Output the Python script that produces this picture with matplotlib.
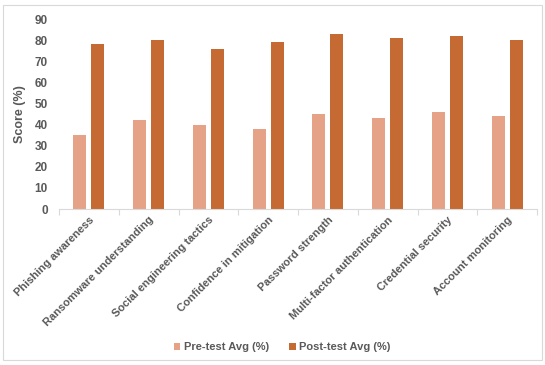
import matplotlib.pyplot as plt
import numpy as np
from matplotlib.patches import Rectangle

plt.rcParams["font.family"] = ["Liberation Sans", "DejaVu Sans"]
plt.rcParams["font.weight"] = "bold"

categories = [
    "Phishing awareness",
    "Ransomware understanding",
    "Social engineering tactics",
    "Confidence in mitigation",
    "Password strength",
    "Multi-factor authentication",
    "Credential security",
    "Account monitoring",
]
pre_test = [35, 42, 40, 38, 45, 43, 46, 44]
post_test = [78, 80, 76, 79, 83, 81, 82, 80]
series_names = ["Pre-test Avg (%)", "Post-test Avg (%)"]

PRE_COLOR = "#E6A286"
POST_COLOR = "#C46A32"
TEXT_COLOR = "#595959"
BAR_W = 0.22
OFFSET = 0.15

fig = plt.figure(figsize=(5.45, 3.65), dpi=100)
ax = fig.add_axes([59 / 545, 1 - 209 / 365, 478 / 545, 190 / 365])

x = np.arange(len(categories))
ax.bar(x - OFFSET, pre_test, BAR_W, color=PRE_COLOR, label=series_names[0])
ax.bar(x + OFFSET, post_test, BAR_W, color=POST_COLOR, label=series_names[1])

ax.set_xlim(-0.5, len(categories) - 0.5)
ax.set_ylim(0, 90)
ax.set_yticks(range(0, 91, 10))
ax.set_xticks(x)
ax.set_xticklabels(categories, rotation=45, ha="right", rotation_mode="anchor",
                   fontsize=8, color=TEXT_COLOR)
ax.set_xticks(np.arange(len(categories) + 1) - 0.5, minor=True)
ax.tick_params(axis="x", which="major", length=0, pad=4)
ax.tick_params(axis="x", which="minor", length=4, color="#D9D9D9", width=0.8)
ax.tick_params(axis="y", length=0, labelsize=8.5, labelcolor=TEXT_COLOR, pad=8)
for lab in ax.get_yticklabels():
    lab.set_fontweight("bold")
ax.set_ylabel("Score (%)", fontsize=9, color=TEXT_COLOR, fontweight="bold", labelpad=6)

for side in ("top", "right", "left"):
    ax.spines[side].set_visible(False)
ax.spines["bottom"].set_color("#D9D9D9")
ax.spines["bottom"].set_linewidth(0.8)

leg = fig.legend(loc="center", bbox_to_anchor=(282 / 545, 1 - 347 / 365), ncol=2,
                 frameon=False, fontsize=8, handlelength=0.6, handleheight=0.6,
                 handletextpad=0.3, columnspacing=1.8)
for t in leg.get_texts():
    t.set_color(TEXT_COLOR)

# light outer frame like the chart area border
fig.patches.append(Rectangle((3 / 545, 5 / 365), 539 / 545, 355 / 365,
                             transform=fig.transFigure, fill=False,
                             edgecolor="#D9D9D9", linewidth=0.8))

fig.savefig("out.png", dpi=100)
